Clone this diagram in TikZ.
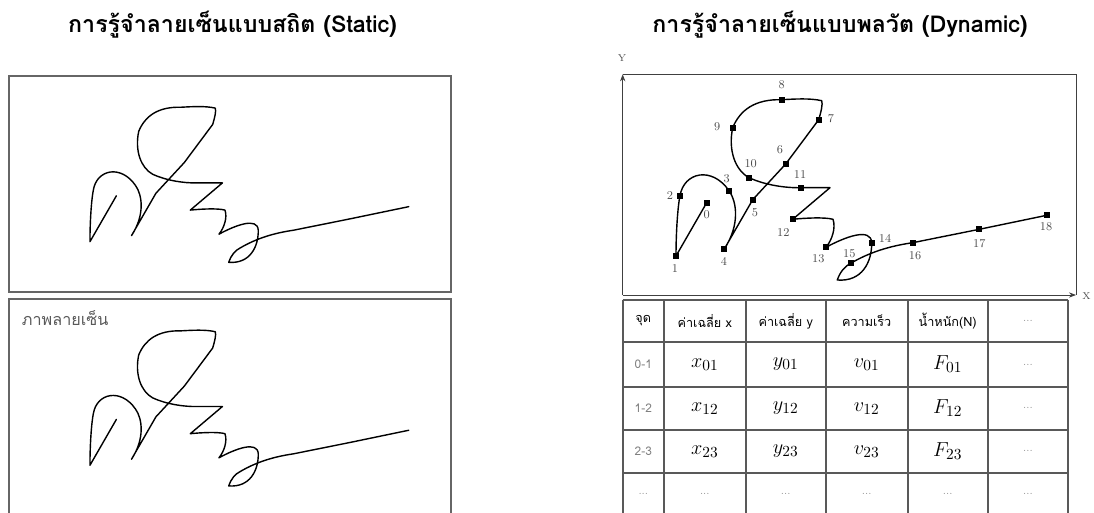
\documentclass[tikz,border=0pt]{standalone}
\usepackage{fontspec}
\usepackage{tikz}
\usetikzlibrary{arrows.meta}
\newfontfamily\thaifont[Script=Thai]{Loma}

% signature stroke, in the pixel frame of the dynamic panel
\newcommand{\signpath}{(706.7,202.7) -- (676,256)
  .. controls (676,230) and (678,205) .. (680,195.7)
  .. controls (684,172) and (712,166) .. (729,190.7)
  .. controls (737,202) and (740,225) .. (724.3,249)
  -- (752.7,199.7) -- (785.7,164) -- (818.7,119.7)
  .. controls (821,112) and (823,104) .. (821.7,100.7)
  .. controls (810,98) and (795,99) .. (781.7,99.7)
  .. controls (755,99) and (740,110) .. (732.7,127.7)
  .. controls (728,150) and (735,170) .. (749,177.7)
  .. controls (765,185) and (785,188) .. (800.7,187.7)
  -- (830,187.7) -- (792.7,219.3)
  .. controls (805,218) and (825,217) .. (833,219.3)
  .. controls (836,228) and (832,240) .. (826,247.3)
  .. controls (845,237) and (871,227) .. (871.7,242.7)
  .. controls (872,262) and (862,282) .. (837.3,280)
  .. controls (840,272) and (845,266) .. (850.7,263.3)
  .. controls (870,252) and (890,246) .. (912.7,242.7)
  -- (979.3,229.3) -- (1046.7,215.3)}

\begin{document}
\begin{tikzpicture}[x=0.025cm,y=-0.025cm]
	\tikzset{sig/.style={line width=1pt, line join=round, line cap=round},
		sigbox/.style={draw=black!60, line width=1.4pt},
		frame/.style={draw=black!75, line width=0.6pt},
		marker/.style={rectangle, fill=black, inner sep=0pt, minimum size=0.15cm},
		numlbl/.style={text=black!70, font=\fontsize{8.5}{9}\selectfont, inner sep=0pt},
		title/.style={font=\thaifont\bfseries\fontsize{16.5}{19}\selectfont},
		grid/.style={draw=black!65, line width=1.2pt},
		head/.style={font=\thaifont\fontsize{9}{10}\selectfont, inner sep=0pt},
		rowlbl/.style={font=\thaifont\fontsize{8.5}{9}\selectfont, text=black!50, inner sep=0pt},
		val/.style={font=\fontsize{15}{16}\selectfont, inner sep=0pt},
		dots/.style={font=\fontsize{7}{8}\selectfont, text=black!45, inner sep=0pt}}
	\useasboundingbox (0,0) rectangle (1094,513);

	%---TITLES---
	\node[title] (ttlstatic) at (232.5,25) {การรู้จำลายเซ็นแบบสถิต (Static)};
	\node[title] (ttldynamic) at (840,25) {การรู้จำลายเซ็นแบบพลวัต (Dynamic)};

	%---STATIC---
	\draw[sigbox] (9.3,75.7) rectangle (451,291.7);
	\draw[sigbox] (9.3,299.3) rectangle (451,530);
	\node[font=\thaifont\fontsize{11.5}{12}\selectfont, text=black!65, anchor=west] (caption) at (17,318) {ภาพลายเซ็น};
	\begin{scope}[shift={(-491.4,21.5)}, scale=0.86]
		\draw[sig] \signpath;
	\end{scope}
	\begin{scope}[shift={(-491.4,245.1)}, scale=0.86]
		\draw[sig] \signpath;
	\end{scope}

	%---DYNAMIC---
	\coordinate (org) at (622.7,295);
	\coordinate (ytop) at (622.7,74.3);
	\coordinate (xend) at (1076,295);
	\draw[frame] (ytop) -- (1076,74.3) -- (xend);
	\draw[frame, -{Stealth[length=5pt]}] (org) -- (ytop);
	\draw[frame, -{Stealth[length=5pt]}] (org) -- (xend);
	\node[numlbl, font=\fontsize{7}{8}\selectfont] (ylbl) at (622,58) {Y};
	\node[numlbl, font=\fontsize{7}{8}\selectfont, anchor=west] (xlbl) at (1082,296) {X};

	\draw[sig] \signpath;
	\foreach \n/\px/\py/\lx/\ly in {0/706.7/202.7/706.7/215, 1/676/256/675/268.3,
		2/680/195.7/670/196, 3/729/190.7/726.7/179, 4/724.3/249/724/261.7,
		5/752.7/199.7/755/212.7, 6/785.7/164/780/149.3, 7/818.7/119.7/831/119,
		8/781.7/99.7/781.7/85, 9/732.7/127.7/717.3/126.7, 10/749/177.7/750.7/164,
		11/800.7/187.7/800/175, 12/792.7/219.3/783.3/232.3, 13/826/247.3/818.3/258.3,
		14/871.7/242.7/885/238.3, 15/850.7/263.3/849.3/253.3, 16/912.7/242.7/915/256,
		17/979.3/229.3/979.3/243.3, 18/1046.7/215.3/1046/226.7}
	{
		\node[marker] (m\n) at (\px,\py) {};
		\node[numlbl] (n\n) at (\lx,\ly) {\n};
	}

	%---TABLE---
	\foreach \x in {622.7,664,745.7,825.7,907.7,987.7,1068.3}
		\draw[grid] (\x,300) -- (\x,530);
	\foreach \y in {300,342.3,386.7,430,472.7}
		\draw[grid] (622.7,\y) -- (1068.3,\y);

	\node[head] (h0) at (643.3,321) {จุด};
	\node[head] (h1) at (704.8,321) {ค่าเฉลี่ย x};
	\node[head] (h2) at (785.7,321) {ค่าเฉลี่ย y};
	\node[head] (h3) at (866.7,321) {ความเร็ว};
	\node[head] (h4) at (947.7,321) {น้ำหนัก(N)};
	\node[dots] (h5) at (1028,321) {...};

	\foreach \r/\y/\k in {1/364.5/01, 2/408.3/12, 3/451.3/23}
	{
		\node[val] (x\r) at (704.8,\y) {$x_{\k}$};
		\node[val] (y\r) at (785.7,\y) {$y_{\k}$};
		\node[val] (v\r) at (866.7,\y) {$v_{\k}$};
		\node[val] (f\r) at (947.7,\y) {$F_{\k}$};
		\node[dots] (e\r) at (1028,\y) {...};
	}
	\node[rowlbl] (r1) at (643.3,364.5) {0-1};
	\node[rowlbl] (r2) at (643.3,408.3) {1-2};
	\node[rowlbl] (r3) at (643.3,451.3) {2-3};
	\foreach \x [count=\c] in {643.3,704.8,785.7,866.7,947.7,1028}
		\node[dots] (d\c) at (\x,493.8) {...};
\end{tikzpicture}
\end{document}
